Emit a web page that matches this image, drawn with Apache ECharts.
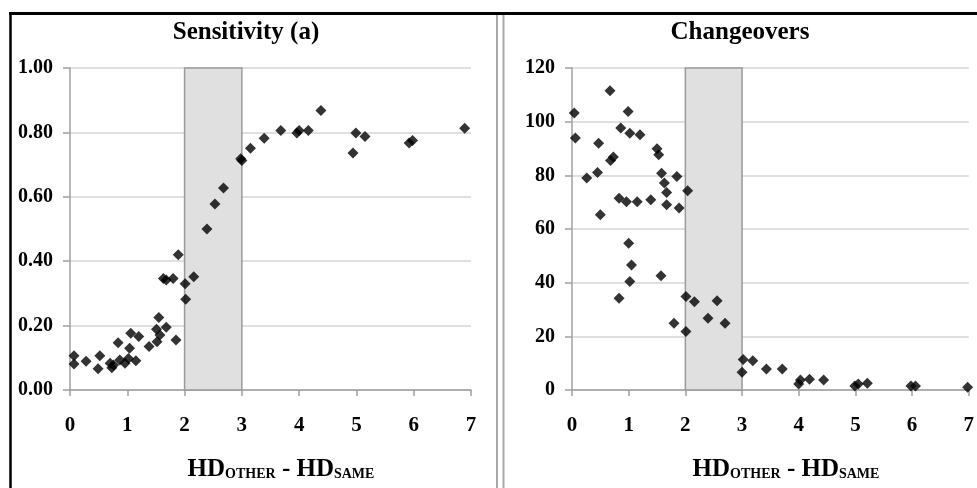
<!DOCTYPE html>
<html>
<head>
<meta charset="utf-8">
<script src="https://cdn.jsdelivr.net/npm/echarts@6/dist/echarts.min.js"></script>
<style>
html,body{margin:0;padding:0;background:#fff;}
#chart{width:977px;height:488px;}
</style>
</head>
<body>
<div id="chart"></div>
<script>
// ---- Data ----
var sensitivityX = [0.07,0.07,0.28,0.49,0.52,0.70,0.73,0.76,0.84,0.87,0.96,1.02,1.04,1.06,1.15,1.20,1.38,1.52,1.51,1.55,1.57,1.68,1.85,1.63,1.68,1.80,1.89,2.01,2.02,2.16,2.39,2.53,2.68,2.98,3.00,3.15,3.39,3.68,3.96,4.00,4.16,4.38,4.94,4.99,5.15,5.92,5.98,6.89];
var sensitivityY = [0.106,0.081,0.089,0.066,0.106,0.083,0.069,0.078,0.147,0.093,0.083,0.098,0.130,0.176,0.091,0.166,0.135,0.150,0.189,0.225,0.171,0.195,0.155,0.346,0.342,0.346,0.420,0.330,0.282,0.352,0.500,0.578,0.627,0.718,0.713,0.751,0.782,0.806,0.798,0.806,0.806,0.868,0.736,0.798,0.787,0.767,0.775,0.813];

var changeoverX = [0.04,0.06,0.67,0.99,0.86,1.02,1.20,0.47,1.50,1.53,0.68,0.73,0.26,0.45,1.58,1.85,1.63,1.67,2.04,0.83,0.96,1.15,1.39,1.67,1.89,0.50,1.00,1.05,1.02,1.57,0.83,2.01,2.16,2.56,2.40,2.70,1.80,2.01,3.02,3.19,3.00,3.43,3.71,4.00,4.03,4.19,4.44,4.99,5.05,5.21,5.98,6.06,6.98];
var changeoverY = [103.2,93.9,111.5,103.8,97.6,95.7,95.1,92.0,89.9,87.7,85.5,86.8,79.0,81.1,80.8,79.6,77.1,73.6,74.3,71.5,70.2,70.2,70.9,69.0,67.8,65.3,54.7,46.6,40.4,42.6,34.2,34.8,32.9,33.3,26.7,24.9,24.9,21.8,11.4,10.9,6.6,7.8,7.8,2.2,3.7,4.0,3.7,1.5,2.2,2.5,1.5,1.5,1.0];

var xTicks = [0,1,2,3,4,5,6,7];
var sensitivityTicks = [0,0.2,0.4,0.6,0.8,1.0];
var changeoverTicks = [0,20,40,60,80,100,120];
var band = [2,3];
var titles = ['Sensitivity (a)','Changeovers'];

function pairs(xs, ys){ return xs.map(function(x,i){ return [x, ys[i]]; }); }

var FONT = '"Liberation Serif","Times New Roman",serif';
var gridCol = '#d4d4d4', axisCol = '#a0a0a0';

function xAxisDef(gi){
  return {
    type:'value', gridIndex:gi, min:xTicks[0], max:xTicks[xTicks.length-1], interval:1,
    axisLine:{show:true, onZero:false, lineStyle:{color:axisCol, width:1.5}},
    axisTick:{show:true, length:6, lineStyle:{color:axisCol, width:1.5}},
    axisLabel:{margin:25, fontFamily:FONT, fontWeight:'bold', fontSize:21, color:'#000'},
    splitLine:{show:false}
  };
}
function yAxisDef(gi, ticks, fmt){
  return {
    type:'value', gridIndex:gi, min:ticks[0], max:ticks[ticks.length-1], interval:ticks[1]-ticks[0],
    axisLine:{show:true, lineStyle:{color:axisCol, width:1.5}},
    axisTick:{show:true, length:7, lineStyle:{color:axisCol, width:1.5}},
    axisLabel:{margin:17, fontFamily:FONT, fontWeight:'bold', fontSize:20, color:'#000', formatter:fmt},
    splitLine:{show:true, lineStyle:{color:gridCol, width:1.5}}
  };
}
function bandArea(){
  return {
    silent:true,
    itemStyle:{color:'#e0e0e0', borderColor:'#9a9a9a', borderWidth:1.5},
    data:[[{xAxis:band[0]},{xAxis:band[1]}]]
  };
}

var nameRich = {
  big:{fontFamily:FONT, fontWeight:'bold', fontSize:25, color:'#000'},
  sub:{fontFamily:FONT, fontWeight:'bold', fontSize:14, color:'#000', padding:[8,0,0,0]}
};

var chart = echarts.init(document.getElementById('chart'), null, {renderer:'canvas'});
chart.setOption({
  animation:false,
  backgroundColor:'#fff',
  grid:[
    {left:70, right:506, top:68, bottom:98},
    {left:572, width:401, top:68, bottom:98}
  ],
  xAxis:[xAxisDef(0), xAxisDef(1)],
  yAxis:[
    yAxisDef(0, sensitivityTicks, function(v){ return v.toFixed(2); }),
    yAxisDef(1, changeoverTicks, function(v){ return String(v); })
  ],
  series:[
    {type:'scatter', xAxisIndex:0, yAxisIndex:0, symbol:'diamond', symbolSize:11,
     itemStyle:{color:'#000'}, data:pairs(sensitivityX, sensitivityY), markArea:bandArea(), z:3},
    {type:'scatter', xAxisIndex:1, yAxisIndex:1, symbol:'diamond', symbolSize:11,
     itemStyle:{color:'#000'}, data:pairs(changeoverX, changeoverY), markArea:bandArea(), z:3}
  ],
  graphic:[
    {type:'line', shape:{x1:9, y1:13.5, x2:977, y2:13.5}, style:{stroke:'#000', lineWidth:3}},
    {type:'line', shape:{x1:10.5, y1:12, x2:10.5, y2:488}, style:{stroke:'#000', lineWidth:2.5}},
    {type:'line', shape:{x1:497, y1:15, x2:497, y2:488}, style:{stroke:'#a8a8a8', lineWidth:2}},
    {type:'line', shape:{x1:503.5, y1:15, x2:503.5, y2:488}, style:{stroke:'#a8a8a8', lineWidth:2}},
    {type:'text', x:246, y:33, style:{text:titles[0], fontFamily:FONT, fontWeight:'bold', fontSize:25, fill:'#000', align:'center', verticalAlign:'middle'}},
    {type:'text', x:740, y:33, style:{text:titles[1], fontFamily:FONT, fontWeight:'bold', fontSize:25, fill:'#000', align:'center', verticalAlign:'middle'}},
    {type:'text', x:281, y:470, style:{rich:nameRich, text:'{big|HD}{sub|OTHER}{big| - HD}{sub|SAME}', align:'center', verticalAlign:'middle'}},
    {type:'text', x:786, y:470, style:{rich:nameRich, text:'{big|HD}{sub|OTHER}{big| - HD}{sub|SAME}', align:'center', verticalAlign:'middle'}}
  ]
});
</script>
</body>
</html>
